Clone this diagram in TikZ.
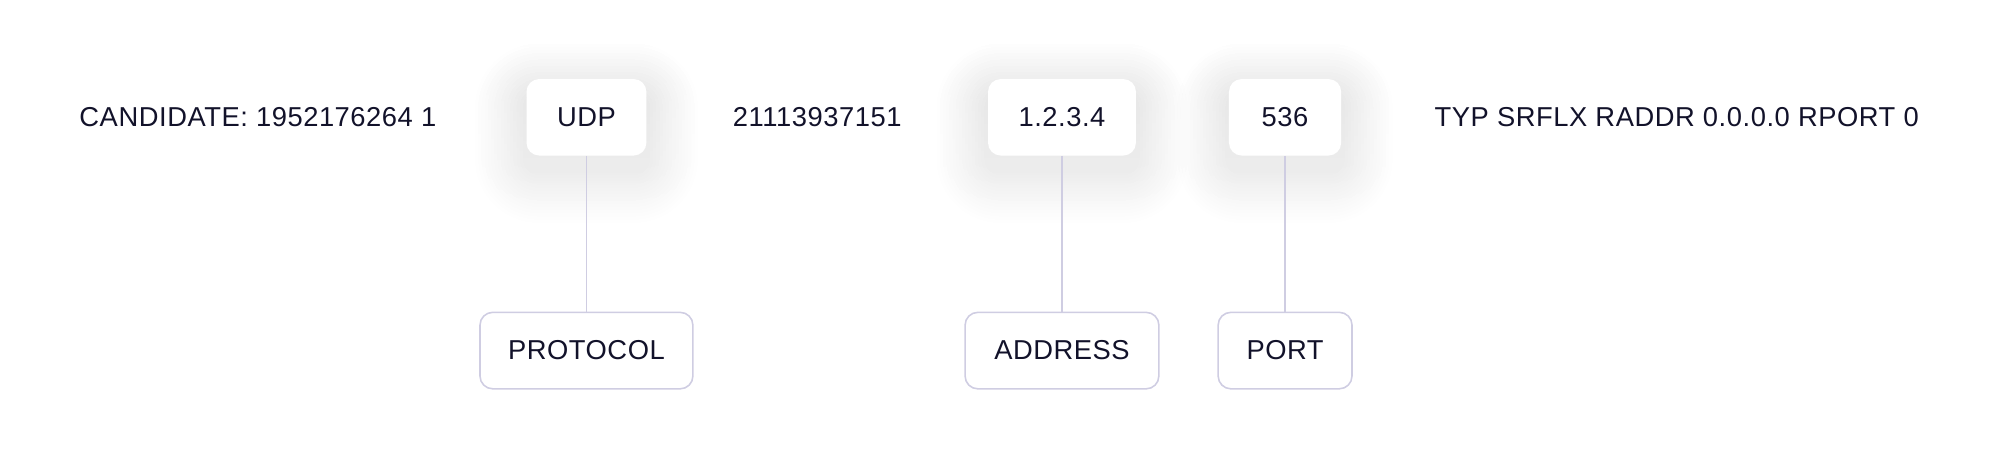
\documentclass[tikz,border=0pt]{standalone}
\usepackage{fontspec}
\setmainfont{Liberation Sans}[LetterSpace=2]
\usepackage{xcolor}
\usepackage{tikz}
\usetikzlibrary{calc}
\usetikzlibrary{backgrounds}
\definecolor{ink}{HTML}{12122A}
\definecolor{edge}{HTML}{CFCDE2}
\definecolor{shade}{HTML}{2A2A55}
\tikzset{
  txt/.style={text=ink, font=\fontsize{12.2}{14}\selectfont, inner sep=0pt},
  field/.style={txt, fill=white, rounded corners=0.2cm, minimum height=1.2cm},
  tag/.style={txt, draw=edge, line width=0.7pt, fill=white, rounded corners=0.2cm, minimum height=1.2cm},
  link/.style={draw=edge, line width=0.7pt}
}
\begin{document}
\begin{tikzpicture}
\useasboundingbox (0,0) rectangle (31.36,7.36);

\node[txt, anchor=west] (cand) at (1.24,5.52) {CANDIDATE: 1952176264 1};
\node[field, minimum width=1.88cm] (udp) at (9.2,5.52) {UDP};
\node[txt] (prio) at (12.82,5.52) {21113937151};
\node[field, minimum width=2.32cm] (ip) at (16.66,5.52) {1.2.3.4};
\node[field, minimum width=1.76cm] (prt) at (20.16,5.52) {536};
\node[txt, anchor=west] (rest) at (22.5,5.52) {TYP SRFLX RADDR 0.0.0.0 RPORT 0};

\node[tag, minimum width=3.34cm] (proto) at (9.2,1.86) {PROTOCOL};
\node[tag, minimum width=3.04cm] (addr) at (16.66,1.86) {ADDRESS};
\node[tag, minimum width=2.1cm] (portl) at (20.16,1.86) {PORT};

\draw[link] (udp) -- (proto);
\draw[link] (ip) -- (addr);
\draw[link] (prt) -- (portl);

% soft shadows
\begin{scope}[on background layer]
\foreach \n in {udp,ip,prt}
  \foreach \i in {1,...,16}
    \fill[shade, opacity=0.0022, rounded corners=0.2cm+\i*0.05cm]
      ($(\n.south west)+(-\i*0.05,-\i*0.05-0.25)$) rectangle ($(\n.north east)+(\i*0.05,\i*0.05-0.25)$);
\end{scope}
\end{tikzpicture}
\end{document}
